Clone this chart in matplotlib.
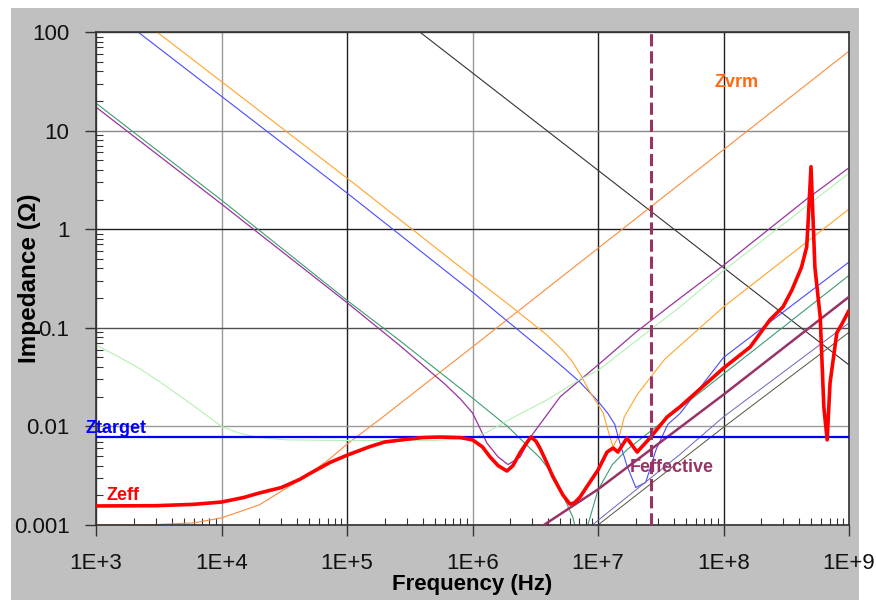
import numpy as np
import matplotlib
matplotlib.use("Agg")
from matplotlib import pyplot as plt
from matplotlib.patches import Rectangle
from matplotlib.ticker import LogLocator, NullFormatter

plt.rcParams['font.family'] = ['Liberation Sans', 'DejaVu Sans']

# ---- values (frequency in Hz, impedance in ohm) ----
zeff_f = [1e3, 3e3, 6e3, 1e4, 1.5e4, 2e4, 3e4, 4.2e4, 5e4, 7.3e4, 1e5, 1.5e5, 2e5, 3e5,
          4e5, 5.5e5, 8e5, 1e6, 1.2e6, 1.38e6, 1.6e6, 1.88e6, 2.1e6, 2.39e6, 2.7e6, 2.92e6,
          3.2e6, 3.45e6, 3.9e6, 4.38e6, 5.26e6, 5.98e6, 6.5e6, 7.19e6, 8.63e6, 1e7, 1.18e7,
          1.32e7, 1.44e7, 1.7e7, 2.05e7, 2.59e7, 3.55e7, 4.5e7, 1e8, 1.63e8, 2.34e8, 2.98e8,
          3.5e8, 4.18e8, 4.6e8, 4.7e8, 4.98e8, 5.2e8, 5.35e8, 5.9e8, 6.3e8, 6.7e8, 7.06e8,
          8.0e8, 8.8e8, 1e9]
zeff_z = [0.00156, 0.00157, 0.00162, 0.00171, 0.0019, 0.00211, 0.0024, 0.0029, 0.0033,
          0.0043, 0.0051, 0.0062, 0.00695, 0.0074, 0.0077, 0.0078, 0.0077, 0.0073, 0.0062,
          0.0049, 0.0040, 0.00353, 0.0040, 0.0054, 0.0068, 0.0078, 0.0071, 0.0060, 0.0043,
          0.00307, 0.00201, 0.00163, 0.00168, 0.00192, 0.00273, 0.00361, 0.00549, 0.00604,
          0.00549, 0.00762, 0.00549, 0.00762, 0.01245, 0.0158, 0.039, 0.0638, 0.12, 0.163,
          0.24, 0.41, 0.66, 1.05, 4.3, 1.05, 0.41, 0.128, 0.0158, 0.0073, 0.0275, 0.089,
          0.11, 0.15]

ztarget_f = [1e3, 1e9]
ztarget_z = [0.0078, 0.0078]

zvrm_f = [1e3, 3e3, 6e3, 1e4, 2e4, 3e4, 5e4, 7.3e4, 1e5, 2e5, 1e6, 1e7, 1e8, 1e9]
zvrm_z = [0.001, 0.00101, 0.00105, 0.00118, 0.0016, 0.0022, 0.0033, 0.0047, 0.0066, 0.0129,
          0.064, 0.64, 6.4, 64]

black_f = [3.8e5, 1e9]
black_z = [100, 0.042]

blue_f = [2.16e3, 1e5, 1e6, 1.65e6, 3.9e6, 5.5e6, 7.2e6, 1e7, 1.2e7, 1.36e7, 1.46e7, 1.7e7,
          2.0e7, 2.4e7, 2.9e7, 3.6e7, 4.5e7, 1e8, 1e9]
blue_z = [100, 2.33, 0.23, 0.135, 0.055, 0.038, 0.028, 0.018, 0.0135, 0.0105, 0.0075, 0.0040,
          0.0024, 0.0027, 0.0058, 0.0105, 0.0135, 0.05, 0.465]

orange_f = [3.06e3, 1e5, 1e6, 2.09e6, 3.9e6, 5.25e6, 6.2e6, 7.2e6, 8.6e6, 1.1e7, 1.23e7,
            1.32e7, 1.5e7, 1.62e7, 2.05e7, 2.6e7, 3.4e7, 4.5e7, 1e8, 1e9]
orange_z = [100, 3.3, 0.33, 0.16, 0.085, 0.059, 0.046, 0.034, 0.0225, 0.0137, 0.0082, 0.0062,
            0.0085, 0.0125, 0.021, 0.031, 0.048, 0.066, 0.163, 1.6]

teal_f = [1e3, 1e4, 1e5, 2.6e5, 1e6, 1.9e6, 3.45e6, 4.5e6, 6.3e6, 7.2e6, 8.3e6, 1e7,
          1.3e7, 1.7e7, 1e8, 1e9]
teal_z = [19, 1.97, 0.19, 0.075, 0.0194, 0.01, 0.0048, 0.0031, 0.0012, 0.0006, 0.001,
          0.00226, 0.0041, 0.0058, 0.034, 0.34]

purple_f = [1e3, 1e4, 1e5, 2.6e5, 6e5, 8e5, 1e6, 1.15e6, 1.3e6, 1.6e6, 1.92e6, 2.4e6, 2.9e6,
            5e6, 1e7, 2e7, 4.5e7, 1e8, 4.6e8, 1e9]
purple_z = [17.3, 1.8, 0.18, 0.067, 0.027, 0.019, 0.0137, 0.0095, 0.0068, 0.0049, 0.0041,
            0.0049, 0.0078, 0.02, 0.042, 0.09, 0.2, 0.43, 2.02, 4.2]

lgreen_f = [1e3, 1.55e3, 2.2e3, 3.24e3, 4.5e3, 6.7e3, 1e4, 1.4e4, 2e4, 3.3e4, 1e5, 5e5,
            1e6, 1.3e6, 2.1e6, 3.9e6, 7.2e6, 1e7, 4.5e7, 1e8, 1e9]
lgreen_z = [0.067, 0.05, 0.039, 0.0282, 0.021, 0.0146, 0.0100, 0.0085, 0.0077, 0.0073,
            0.0072, 0.0072, 0.0076, 0.0087, 0.0123, 0.0185, 0.03, 0.037, 0.163, 0.38, 3.7]

maroon_f = [3.7e6, 1e7, 1e8, 1e9]
maroon_z = [0.001, 0.0023, 0.021, 0.206]

slate_f = [9e6, 4.5e7, 1e8, 1e9]
slate_z = [0.001, 0.0052, 0.0125, 0.112]

olive_f = [1e7, 1e8, 1e9]
olive_z = [0.001, 0.0098, 0.09]

f_effective = 2.64e7

x_decades = [1e3, 1e4, 1e5, 1e6, 1e7, 1e8, 1e9]
x_labels = ["1E+3", "1E+4", "1E+5", "1E+6", "1E+7", "1E+8", "1E+9"]
y_decades = [0.001, 0.01, 0.1, 1, 10, 100]
y_labels = ["0.001", "0.01", "0.1", "1", "10", "100"]

# ---- figure ----
fig = plt.figure(figsize=(8.76, 6.0), dpi=100)
fig.patches.append(Rectangle((11 / 876, 0), 848 / 876, 592 / 600, transform=fig.transFigure,
                             facecolor='#c0c0c0', edgecolor='none', zorder=-10))
ax = fig.add_axes([96 / 876, 75 / 600, 753 / 876, 493 / 600])
ax.set_zorder(1)
ax.set_facecolor('white')
ax.set_xscale('log')
ax.set_yscale('log')
ax.set_xlim(1e3, 1e9)
ax.set_ylim(1e-3, 1e2)

# grid lines, some drawn darker than others as in the original
x_grid_colors = ['#404040', '#9a9a9a', '#202020', '#9a9a9a', '#202020', '#202020', '#404040']
y_grid_colors = ['#404040', '#9a9a9a', '#505050', '#202020', '#8a8a8a', '#404040']
for xv, c in zip(x_decades, x_grid_colors):
    ax.axvline(xv, color=c, lw=1.0, zorder=0.5)
for yv, c in zip(y_decades, y_grid_colors):
    ax.axhline(yv, color=c, lw=1.0, zorder=0.5)

lw_thin = 0.8
ax.plot(black_f, black_z, color='#333333', lw=lw_thin, zorder=2)
ax.plot(zvrm_f, zvrm_z, color='#ff8a3d', lw=lw_thin, zorder=2)
ax.plot(blue_f, blue_z, color='#4a4aff', lw=lw_thin, zorder=2)
ax.plot(orange_f, orange_z, color='#ffa428', lw=lw_thin, zorder=2)
ax.plot(teal_f, teal_z, color='#3d9d6e', lw=lw_thin, zorder=2)
ax.plot(purple_f, purple_z, color='#9933a0', lw=0.9, zorder=2)
ax.plot(lgreen_f, lgreen_z, color='#b4f0b4', lw=lw_thin, zorder=2)
ax.plot(slate_f, slate_z, color='#6666bb', lw=0.7, zorder=2)
ax.plot(olive_f, olive_z, color='#55553a', lw=0.7, zorder=2)
ax.plot(maroon_f, maroon_z, color='#993366', lw=1.8, zorder=3)
ax.plot(ztarget_f, ztarget_z, color='#0000ff', lw=1.6, zorder=3)
ax.plot(zeff_f, zeff_z, color='#ff0000', lw=2.6, zorder=4,
        solid_joinstyle='round', solid_capstyle='round')
ax.axvline(f_effective, color='#993366', lw=2.2, ls=(0, (4, 1.6)), zorder=5)

# labels on the curves
lab = dict(fontsize=13, fontweight='bold', va='center', ha='left', zorder=6)
ax.text(8.55e7, 30.4, "Zvrm", color='#ff6a10', **lab)
ax.text(8.2e2, 0.0096, "Ztarget", color='#0000ff', clip_on=False, **lab)
ax.text(1.22e3, 0.0020, "Zeff", color='#ff0000', **lab)
ax.text(1.8e7, 0.00379, "Feffective", color='#993366', **lab)

# ticks
ax.set_xticks(x_decades)
ax.set_xticklabels(x_labels)
ax.set_yticks(y_decades)
ax.set_yticklabels(y_labels)
ax.xaxis.set_minor_locator(LogLocator(base=10, subs=np.arange(2, 10), numticks=20))
ax.yaxis.set_minor_locator(LogLocator(base=10, subs=np.arange(2, 10), numticks=20))
ax.xaxis.set_minor_formatter(NullFormatter())
ax.yaxis.set_minor_formatter(NullFormatter())
ax.tick_params(which='major', direction='out', length=8, width=1.0, color='#333333',
               labelsize=16, labelcolor='#111111')
ax.tick_params(axis='x', which='major', pad=12)
ax.tick_params(axis='y', which='major', pad=11)
ax.tick_params(which='minor', direction='in', length=5, width=0.8, color='#333333')

for s in ax.spines.values():
    s.set_color('#333333')
    s.set_linewidth(1.2)

ax.set_xlabel("Frequency (Hz)", fontsize=16, fontweight='bold', va='top')
ax.set_ylabel("Impedance (\u03a9)", fontsize=17.5, fontweight='bold')
ax.xaxis.set_label_coords(0.5, -0.099)
ax.yaxis.set_label_coords(-0.073, 0.5)

plt.savefig("out.png", dpi=100)
